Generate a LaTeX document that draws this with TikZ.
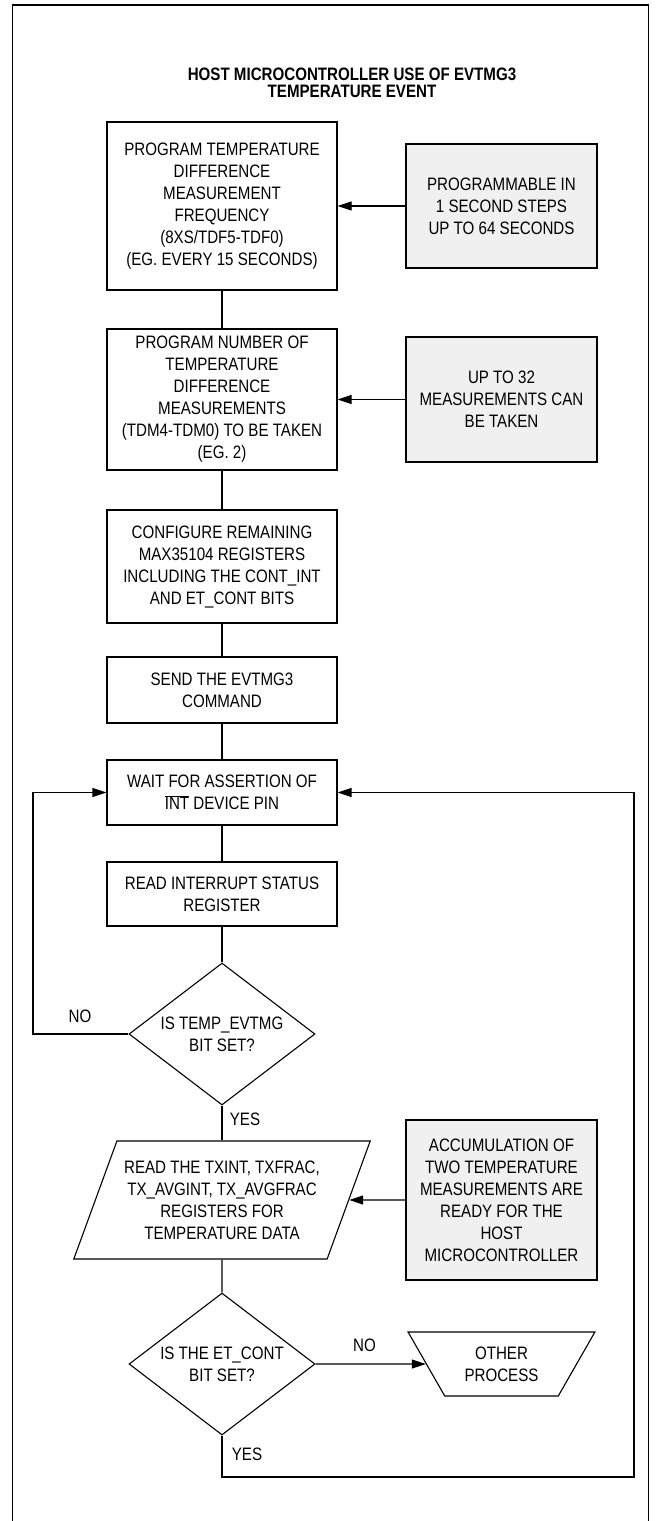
\documentclass[tikz,border=0pt]{standalone}
\usepackage{fontspec}
\setmainfont{Liberation Sans}[FakeStretch=0.84]
\usetikzlibrary{shapes.geometric,arrows.meta}
\definecolor{notegray}{HTML}{F0F0F0}
\newcommand{\invsig}[1]{$\overline{\mbox{#1}}$}

\begin{document}
\begin{tikzpicture}[x=1pt,y=-1pt,
  font=\fontsize{18}{22}\selectfont,
  every node/.style={align=center,inner sep=0pt},
  box/.style={draw,line width=1.1pt,minimum width=230pt},
  note/.style={draw,line width=1.1pt,fill=notegray,minimum width=191pt},
  decision/.style={draw,line width=1.1pt,diamond,aspect=1.3,minimum width=186pt,minimum height=142pt},
  link/.style={line width=1.1pt},
  arr/.style={line width=1.1pt,-{Triangle[length=14pt,width=9pt]}}]
\useasboundingbox (0,0) rectangle (656,1521);
% outer frame (open at the bottom)
\draw[line width=1.6pt] (12.5,1525) -- (12.5,5) -- (648.5,5) -- (648.5,1525);

% title
\node[font=\bfseries\fontsize{18}{16.5}\selectfont] (title) at (352,83) {HOST MICROCONTROLLER USE OF EVTMG3\\TEMPERATURE EVENT};

% main column
\node[box,minimum height=168pt] (freq) at (222,206) {PROGRAM TEMPERATURE\\DIFFERENCE\\MEASUREMENT\\FREQUENCY\\(8XS/TDF5-TDF0)\\(EG. EVERY 15 SECONDS)};
\node[box,minimum height=141pt] (count) at (222,399.5) {PROGRAM NUMBER OF\\TEMPERATURE\\DIFFERENCE\\MEASUREMENTS\\(TDM4-TDM0) TO BE TAKEN\\(EG. 2)};
\node[box,minimum height=113pt] (config) at (222,566.5) {CONFIGURE REMAINING\\MAX35104 REGISTERS\\INCLUDING THE CONT\_INT\\AND ET\_CONT BITS};
\node[box,minimum height=66pt] (send) at (222,690) {SEND THE EVTMG3\\COMMAND};
\node[box,minimum height=65pt] (wait) at (222,792.5) {WAIT FOR ASSERTION OF\\\invsig{INT} DEVICE PIN};
\node[box,minimum height=64pt] (status) at (222,894) {READ INTERRUPT STATUS\\REGISTER};
\node[decision] (evtmg) at (222,1034) {IS TEMP\_EVTMG\\BIT SET?};
\node[draw,line width=1.1pt,trapezium,trapezium left angle=63,trapezium right angle=117,trapezium stretches=true,minimum width=297pt,minimum height=118pt] (readtx) at (222,1200) {READ THE TXINT, TXFRAC,\\TX\_AVGINT, TX\_AVGFRAC\\REGISTERS FOR\\TEMPERATURE DATA};
\node[decision] (etcont) at (222,1364) {IS THE ET\_CONT\\BIT SET?};
\node[draw,line width=1.1pt,trapezium,trapezium angle=55.5,trapezium stretches=true,shape border rotate=180,minimum width=187pt,minimum height=64pt] (other) at (501.5,1364) {OTHER\\PROCESS};

% side notes
\node[note,minimum height=124pt] (steps) at (501.5,206) {PROGRAMMABLE IN\\1 SECOND STEPS\\UP TO 64 SECONDS};
\node[note,minimum height=125pt] (upto) at (501.5,399.5) {UP TO 32\\MEASUREMENTS CAN\\BE TAKEN};
\node[note,minimum height=160pt] (ready) at (501.5,1200) {ACCUMULATION OF\\TWO TEMPERATURE\\MEASUREMENTS ARE\\READY FOR THE\\HOST\\MICROCONTROLLER};

% branch labels
\node (no1) at (80,1016) {NO};
\node (yes1) at (245,1119) {YES};
\node (no2) at (364.5,1345) {NO};
\node (yes2) at (247,1454) {YES};

% straight links
\draw[link] (freq) -- (count);
\draw[link] (count) -- (config);
\draw[link] (config) -- (send);
\draw[link] (send) -- (wait);
\draw[link] (wait) -- (status);
\draw[link] (status) -- (evtmg);
\draw[link] (evtmg) -- (readtx);
\draw[link] (readtx) -- (etcont);

% notes into the column
\draw[arr] (steps) -- (freq);
\draw[arr] (upto) -- (count);
\draw[arr] (ready) -- (readtx);
\draw[arr] (etcont) -- (other);

% loops back to the wait box
\coordinate (backL) at (33,1034);
\draw[arr] (evtmg.west) -- (backL) |- (wait.west);
\coordinate (backR) at (634,1477);
\draw[arr] (etcont.south) |- (backR) |- (wait.east);
\end{tikzpicture}
\end{document}
